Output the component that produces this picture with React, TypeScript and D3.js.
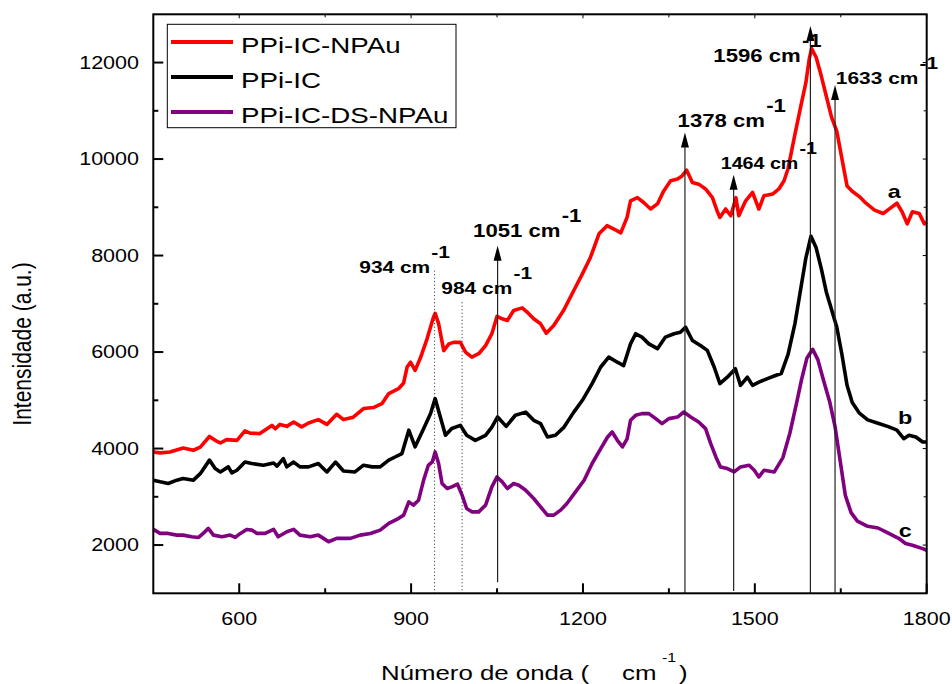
import React from "react";
import * as d3 from "d3";

// ---------- data ----------
const seriesNames = ["PPi-IC-NPAu", "PPi-IC", "PPi-IC-DS-NPAu"];
const seriesColors = ["#ff0000", "#000000", "#800080"];
const seriesLetters = ["a", "b", "c"];
const letterWn = [1732, 1750, 1751];
const letterI = [9200, 4510, 2170];

const seriesA: [number, number][] = [
  [450,3930],[462,3910],[479,3930],[502,4010],[520,3965],[532,4030],[548,4250],[558,4170],[567,4115],[578,4185],
  [596,4170],[610,4365],[619,4320],[636,4310],[657,4480],[663,4410],[671,4500],[683,4460],[695,4550],[709,4450],
  [721,4530],[738,4600],[753,4500],[770,4710],[782,4600],[799,4650],[817,4830],[834,4850],[849,4930],[861,5140],
  [878,5240],[887,5360],[893,5690],[899,5790],[907,5620],[916,5870],[928,6280],[939,6720],[942,6800],[948,6590],
  [957,6030],[966,6170],[974,6200],[986,6200],[995,6000],[1006,5895],[1018,5965],[1030,6135],[1041,6380],[1050,6740],
  [1059,6690],[1068,6655],[1079,6860],[1094,6915],[1105,6800],[1114,6690],[1126,6585],[1136,6390],[1149,6550],[1166,6860],
  [1184,7275],[1199,7620],[1213,7960],[1228,8450],[1242,8620],[1254,8550],[1266,8470],[1277,8790],[1283,9135],[1295,9200],
  [1306,9100],[1318,8965],[1330,9070],[1341,9340],[1353,9550],[1365,9585],[1373,9650],[1381,9770],[1391,9515],[1402,9480],
  [1414,9380],[1426,9200],[1434,8930],[1439,8790],[1449,8965],[1458,8825],[1467,9200],[1472,8825],[1484,9135],[1496,9310],
  [1507,8965],[1516,9240],[1531,9275],[1542,9380],[1551,9550],[1558,9800],[1570,10510],[1580,11080],[1589,11577],[1595,12076],
  [1599,12290],[1607,12110],[1616,11720],[1625,11290],[1634,10865],[1643,10580],[1652,10010],[1661,9440],[1670,9333],[1682,9227],
  [1694,9085],[1709,8942],[1724,8871],[1736,8977],[1748,9085],[1757,8907],[1766,8656],[1775,8907],[1787,8871],[1796,8656],[1800,8693],
];

const seriesB: [number, number][] = [
  [450,3345],[462,3310],[476,3275],[491,3345],[502,3380],[520,3345],[532,3480],[548,3760],[558,3585],[567,3515],
  [581,3620],[587,3495],[596,3550],[610,3720],[622,3690],[642,3655],[660,3700],[666,3635],[677,3790],[683,3620],
  [695,3720],[706,3620],[721,3620],[738,3690],[753,3515],[768,3720],[782,3535],[802,3515],[817,3655],[832,3620],
  [846,3620],[861,3760],[872,3825],[884,3895],[896,4380],[907,4035],[922,4415],[934,4725],[942,5035],[951,4655],
  [960,4275],[971,4415],[986,4480],[997,4275],[1012,4170],[1030,4275],[1041,4445],[1051,4655],[1066,4460],[1082,4690],
  [1100,4755],[1114,4585],[1126,4515],[1138,4240],[1152,4275],[1167,4445],[1184,4755],[1199,5000],[1216,5345],[1231,5690],
  [1245,5895],[1260,5790],[1271,5720],[1283,6170],[1292,6380],[1303,6310],[1315,6170],[1330,6070],[1344,6310],[1359,6380],
  [1370,6410],[1379,6515],[1391,6240],[1405,6135],[1417,6035],[1429,5690],[1439,5345],[1452,5480],[1466,5655],[1475,5310],
  [1487,5480],[1496,5310],[1507,5375],[1522,5450],[1536,5515],[1546,5555],[1558,5950],[1570,6590],[1580,7300],[1589,7945],
  [1598,8400],[1607,8160],[1616,7730],[1625,7233],[1634,6875],[1643,6520],[1652,5950],[1661,5310],[1670,4953],[1682,4740],
  [1697,4595],[1715,4525],[1733,4455],[1748,4383],[1760,4205],[1769,4277],[1781,4240],[1793,4135],[1800,4135],
];

const seriesC: [number, number][] = [
  [450,2324],[462,2241],[476,2241],[491,2206],[502,2206],[517,2171],[529,2158],[537,2241],[546,2345],[555,2206],
  [570,2171],[584,2206],[593,2158],[602,2241],[613,2324],[622,2310],[631,2241],[645,2241],[660,2324],[668,2171],
  [683,2275],[695,2324],[706,2206],[724,2171],[738,2206],[747,2138],[756,2068],[770,2138],[794,2138],[811,2206],
  [829,2241],[846,2310],[861,2448],[875,2531],[887,2620],[896,2895],[904,2827],[913,2930],[922,3350],[930,3650],
  [937,3722],[942,3930],[948,3690],[954,3275],[963,3172],[971,3205],[981,3261],[989,3034],[997,2758],[1006,2688],
  [1018,2688],[1030,2827],[1041,3205],[1050,3412],[1059,3309],[1068,3172],[1079,3275],[1088,3240],[1100,3137],[1114,2965],
  [1126,2791],[1138,2620],[1149,2620],[1161,2724],[1172,2862],[1187,3102],[1202,3344],[1216,3690],[1231,3999],[1243,4240],
  [1251,4343],[1260,4171],[1269,4033],[1277,4200],[1283,4585],[1292,4688],[1303,4724],[1315,4724],[1327,4620],[1338,4517],
  [1350,4620],[1365,4653],[1376,4757],[1388,4653],[1402,4550],[1414,4413],[1423,4103],[1432,3826],[1440,3619],[1452,3585],
  [1464,3515],[1475,3619],[1490,3654],[1499,3550],[1507,3412],[1516,3550],[1534,3515],[1549,3813],[1561,4312],[1573,4953],
  [1582,5452],[1591,5878],[1601,6056],[1610,5843],[1619,5452],[1631,4953],[1640,4455],[1649,3741],[1658,3029],[1668,2673],
  [1679,2496],[1697,2388],[1715,2353],[1733,2245],[1751,2140],[1763,2032],[1775,1997],[1793,1925],[1800,1890],
];

const allSeries = [seriesA, seriesB, seriesC];

const xTicksMajor = [600, 900, 1200, 1500, 1800];
const xTicksMinor = [750, 1050, 1350, 1650];
const yTicksMajor = [2000, 4000, 6000, 8000, 10000, 12000];
const yTicksMinor = [3000, 5000, 7000, 9000, 11000];

// peak annotations
const peakLabels = ["934", "984", "1051", "1378", "1464", "1596", "1633"];
const peakLineWn = [941, 989, 1051, 1378, 1463, 1597, 1640];
const peakTopI = [7687, 7032, 8205, 10549, 9674, 12757, 11536];
const peakBottomI = [1000, 1000, 1230, 1000, 1050, 1000, 1000];
const peakDotted = [true, true, false, false, false, false, false];
const labelWn = [809.5, 952.8, 1008.2, 1365.2, 1440.4, 1427.6, 1641.4];
const labelI = [7641, 7206, 8392, 10667, 9792, 12012, 11550];
const labelSize = [17, 17, 18, 18, 16, 18, 17];

// ---------- layout ----------
const W = 952, H = 684;
const L = 153.3, R = 926.7, T = 14.3, B = 593.3;
const SX = 1.23;
const FONT = "'Liberation Sans', Arial, Helvetica, sans-serif";

function Txt({ x, y, size, anchor = "start", weight = "normal", children, sx = SX }: any) {
  return (
    <g transform={`translate(${x},${y}) scale(${sx},1)`}>
      <text fontSize={size} textAnchor={anchor} fontWeight={weight} fontFamily={FONT} fill="#000">
        {children}
      </text>
    </g>
  );
}

export default function App() {
  const x = d3.scaleLinear().domain([450, 1800]).range([L, R]);
  const y = d3.scaleLinear().domain([1000, 13000]).range([B, T]);
  const line = d3.line<[number, number]>().x((d) => x(d[0])).y((d) => y(d[1]));

  return (
    <svg width={W} height={H} style={{ position: "absolute", left: 0, top: 0, background: "#fff" }}>
      <rect x={0} y={0} width={W} height={H} fill="#fff" />
      {/* series */}
      {allSeries.map((s, i) => (
        <path key={i} d={line(s) || ""} fill="none" stroke={seriesColors[i]} strokeWidth={3.6} strokeLinejoin="round" />
      ))}

      {/* annotation lines */}
      {peakLineWn.map((wn, i) => {
        const px = x(wn);
        const top = y(peakTopI[i]);
        const bot = y(peakBottomI[i]);
        if (peakDotted[i]) {
          return <line key={i} x1={px} x2={px} y1={top} y2={bot} stroke="#222" strokeWidth={1} strokeDasharray="1,2.5" />;
        }
        return (
          <g key={i}>
            <line x1={px} x2={px} y1={top + 8} y2={bot} stroke="#222" strokeWidth={1.2} />
            <path d={`M${px},${top} L${px - 4},${top + 15} L${px + 4},${top + 15} Z`} fill="#000" />
          </g>
        );
      })}

      {/* annotation labels */}
      {peakLabels.map((lab, i) => (
        <Txt key={i} x={x(labelWn[i])} y={y(labelI[i])} size={labelSize[i]} weight="bold">
          {lab + " cm"}
          <tspan dx={1} dy={-15}>-1</tspan>
        </Txt>
      ))}

      {/* series letters */}
      {seriesLetters.map((l, i) => (
        <Txt key={l} x={x(letterWn[i])} y={y(letterI[i])} size={19} weight="bold">{l}</Txt>
      ))}

      {/* frame */}
      <rect x={L} y={T} width={R - L} height={B - T} fill="none" stroke="#000" strokeWidth={2} />

      {/* bottom ticks */}
      {xTicksMajor.map((t) => (
        <g key={"xm" + t}>
          <line x1={x(t)} x2={x(t)} y1={B} y2={B - 10} stroke="#000" strokeWidth={2} />
          <line x1={x(t)} x2={x(t)} y1={T} y2={T + 4} stroke="#000" strokeWidth={1} />
          <Txt x={x(t)} y={625} size={17.5} anchor="middle">{String(t)}</Txt>
        </g>
      ))}
      {xTicksMinor.map((t) => (
        <g key={"xn" + t}>
          <line x1={x(t)} x2={x(t)} y1={B} y2={B - 5} stroke="#000" strokeWidth={2} />
          <line x1={x(t)} x2={x(t)} y1={T} y2={T + 3} stroke="#000" strokeWidth={1} />
        </g>
      ))}
      {/* left ticks */}
      {yTicksMajor.map((t) => (
        <g key={"ym" + t}>
          <line x1={L} x2={L + 10} y1={y(t)} y2={y(t)} stroke="#000" strokeWidth={2} />
          <line x1={R} x2={R - 4} y1={y(t)} y2={y(t)} stroke="#000" strokeWidth={1} />
          <Txt x={139} y={y(t) + 6.3} size={17.5} anchor="end">{String(t)}</Txt>
        </g>
      ))}
      {yTicksMinor.map((t) => (
        <g key={"yn" + t}>
          <line x1={L} x2={L + 5} y1={y(t)} y2={y(t)} stroke="#000" strokeWidth={2} />
          <line x1={R} x2={R - 3} y1={y(t)} y2={y(t)} stroke="#000" strokeWidth={1} />
        </g>
      ))}

      {/* axis titles */}
      <Txt x={381} y={680} size={21}>Número de onda (</Txt>
      <Txt x={622} y={680} size={21}>cm</Txt>
      <Txt x={662} y={662} size={13}>-1</Txt>
      <Txt x={679} y={680} size={21}>)</Txt>
      <g transform={`translate(31,344) scale(${SX},1) rotate(-90)`}>
        <text fontSize={21} textAnchor="middle" fontFamily={FONT} fill="#000">Intensidade (a.u.)</text>
      </g>

      {/* legend */}
      <rect x={167.3} y={24.3} width={288.7} height={103.4} fill="#fff" stroke="#000" strokeWidth={1} />
      {seriesNames.map((n, i) => (
        <g key={n}>
          <line x1={171} x2={233} y1={42 + i * 35} y2={42 + i * 35} stroke={seriesColors[i]} strokeWidth={4} />
          <Txt x={241} y={52.5 + i * 35} size={22} sx={1.26}>{n}</Txt>
        </g>
      ))}
    </svg>
  );
}
